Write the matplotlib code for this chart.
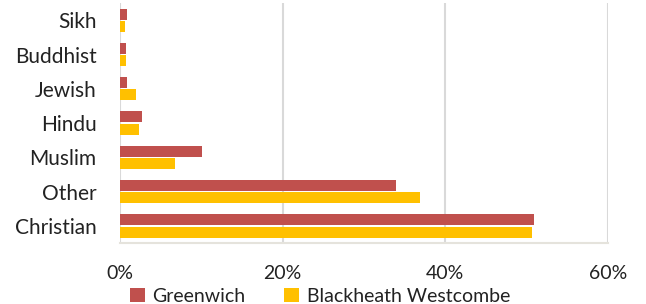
import numpy as np
import matplotlib
matplotlib.use("Agg")
import matplotlib.pyplot as plt

plt.rcParams['font.family'] = ['Lato', 'DejaVu Sans']

categories = ["Christian", "Other", "Muslim", "Hindu", "Jewish", "Buddhist", "Sikh"]
greenwich = [50.9, 33.9, 10.1, 2.7, 0.8, 0.75, 0.8]
blackheath = [50.7, 36.9, 6.7, 2.3, 2.0, 0.75, 0.6]
series_names = ["Greenwich", "Blackheath Westcombe"]
xticks = [0, 20, 40, 60]

fig = plt.figure(figsize=(6.46, 3.04), dpi=100)
ax = fig.add_axes([0.1858, 0.2007, 0.7554, 0.789])

y = np.arange(len(categories))
h = 0.32
ax.barh(y + 0.18, greenwich, height=h, color="#C0504D", label=series_names[0], zorder=3)
ax.barh(y - 0.18, blackheath, height=h, color="#FFC000", label=series_names[1], zorder=3)

ax.set_xlim(0, 60)
ax.set_ylim(-0.5, len(categories) - 0.5)
ax.set_xticks(xticks)
ax.set_xticklabels([f"{t}%" for t in xticks], fontsize=14, color="#222222")
ax.set_yticks(y)
ax.set_yticklabels(categories, fontsize=15, color="#222222")
ax.tick_params(axis="x", length=0, pad=16)
ax.tick_params(axis="y", length=0, pad=17)
ax.grid(axis="x", color="#D9D9D9", linewidth=1.5, zorder=0)
for s in ["top", "right", "left"]:
    ax.spines[s].set_visible(False)
ax.spines["bottom"].set_color("#E5E3DC")
ax.spines["bottom"].set_linewidth(1.5)

ax.legend(loc="lower center", bbox_to_anchor=(0.41, -0.33), ncol=2, frameon=False,
          fontsize=14, handlelength=0.75, handleheight=0.75, handletextpad=0.4,
          columnspacing=2.0, labelcolor="#222222")

fig.savefig("out.png", dpi=100)
